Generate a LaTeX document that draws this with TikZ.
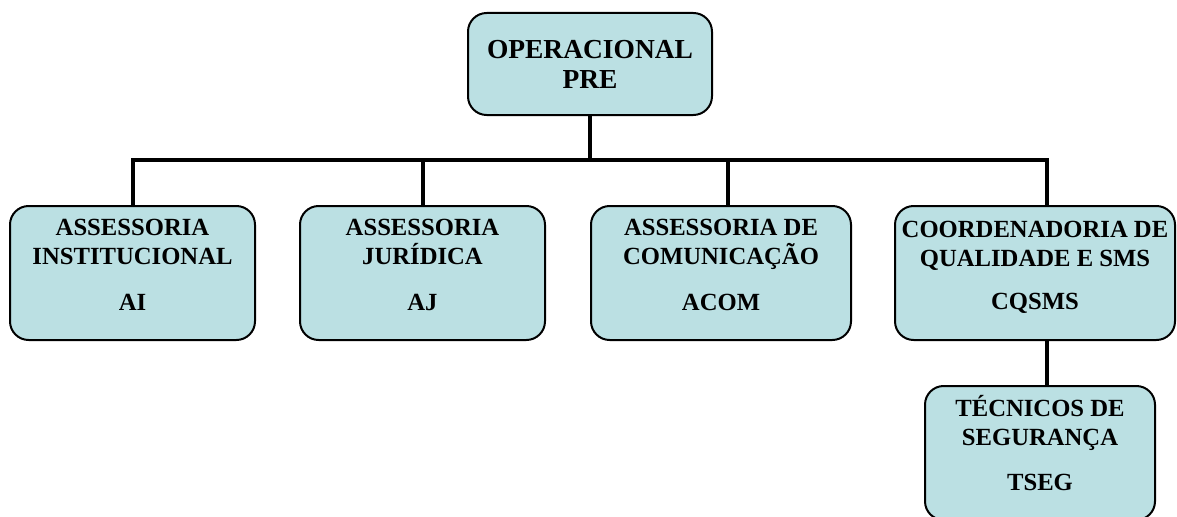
\documentclass[tikz,border=0pt]{standalone}
\usepackage{fontspec}
\setmainfont{Liberation Serif}
\definecolor{boxfill}{RGB}{187,224,227}
\newcommand{\liftby}[1]{\rule[-#1]{0pt}{#1}}
\tikzset{
  orgbox/.style={draw=black, line width=1.5pt, fill=boxfill, rounded corners=14pt,
    align=center, inner sep=0pt,
    font=\bfseries\fontsize{18.5}{21.75}\selectfont},
  topbox/.style={orgbox, font=\bfseries\fontsize{20.6}{22.5}\selectfont},
  wire/.style={draw=black, line width=3pt}
}
\begin{document}
\begin{tikzpicture}[x=0.75pt,y=-0.75pt]
\useasboundingbox (0,0) rectangle (1177,517);
\clip (0,0) rectangle (1177,517);
% boxes
\node[topbox, minimum width=183pt, minimum height=76.5pt] (op) at (590,64) {OPERACIONAL\\PRE};
\node[orgbox, minimum width=183.75pt, minimum height=100.5pt] (ai) at (132.5,273)
  {ASSESSORIA\\INSTITUCIONAL\\[12.75pt]AI\liftby{12pt}};
\node[orgbox, minimum width=183.75pt, minimum height=100.5pt] (aj) at (422.5,273)
  {ASSESSORIA\\JURÍDICA\\[12.75pt]AJ\liftby{12pt}};
\node[orgbox, minimum width=195pt, minimum height=100.5pt] (acom) at (721,273)
  {ASSESSORIA DE\\COMUNICAÇÃO\\[12.75pt]ACOM\liftby{12pt}};
\node[orgbox, minimum width=210pt, minimum height=100.5pt] (cq) at (1035,273)
  {COORDENADORIA DE\\QUALIDADE E SMS\\[10.5pt]CQSMS\liftby{12pt}};
\node[orgbox, minimum width=172.5pt, minimum height=100.5pt] (ts) at (1040,453)
  {TÉCNICOS DE\\SEGURANÇA\\[12pt]TSEG\liftby{15pt}};
% junctions
\coordinate (j1) at (133,160);
\coordinate (j2) at (423,160);
\coordinate (j3) at (728,160);
\coordinate (j4) at (1047,160);
% connectors
\draw[wire] (op.south) -- (op.south |- j1);
\draw[wire] (ai.north -| j1) -- (j1) -- (j4) -- (cq.north -| j4);
\draw[wire] (j2) -- (aj.north -| j2);
\draw[wire] (j3) -- (acom.north -| j3);
\draw[wire] (cq.south -| j4) -- (ts.north -| j4);
\end{tikzpicture}
\end{document}
